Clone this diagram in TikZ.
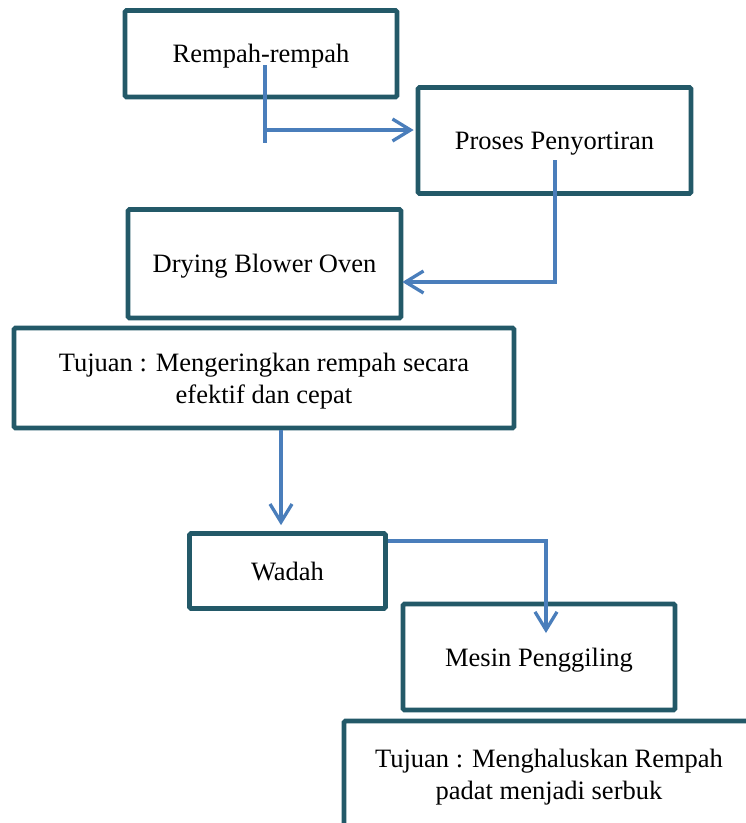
\documentclass[tikz,border=0pt]{standalone}
\usepackage{fontspec}
\setmainfont{Liberation Serif}
\usetikzlibrary{arrows.meta}
\definecolor{boxcol}{RGB}{35,89,104}
\definecolor{arrcol}{RGB}{74,126,187}
\begin{document}
\begin{tikzpicture}[x=1pt,y=-1pt,
  box/.style={draw=boxcol, line width=4.7pt, rounded corners=1.5pt, fill=white,
    inner sep=0pt, align=center, text=black, font=\fontsize{26.5}{32}\selectfont},
  onebox/.style={box, text depth=-3pt},
  conn/.style={draw=arrcol, line width=3.3pt},
  arr/.style={conn, -{Straight Barb[length=18pt,width=22pt]}}]
\useasboundingbox (0,0) rectangle (746,823);
\clip (0,0) rectangle (746,823);
\node[onebox, minimum width=272pt, minimum height=86.5pt] (rem) at (261,53.75) {Rempah-rempah};
\node[onebox, minimum width=273pt, minimum height=106pt] (pro) at (554.5,140.5) {Proses Penyortiran};
\node[onebox, minimum width=273pt, minimum height=108.5pt] (dry) at (264.5,263.75) {Drying Blower Oven};
\node[box, text depth=-1.5pt, minimum width=500pt, minimum height=100pt] (tj1) at (264,378) {Tujuan : Mengeringkan rempah secara\\efektif dan cepat};
\node[onebox, minimum width=196pt, minimum height=75pt] (wad) at (287.5,571) {Wadah};
\node[onebox, minimum width=272pt, minimum height=106pt] (mes) at (539,657) {Mesin Penggiling};
\node[box, minimum width=410pt, minimum height=113pt] (tj2) at (549,777.5) {Tujuan : Menghaluskan Rempah\\padat menjadi serbuk};
% connector 1
\coordinate (a1) at (265,65);
\coordinate (a2) at (265,143);
\coordinate (a3) at (265,130);
\draw[conn] (a1) -- (a2);
\draw[arr, shorten >=2pt] (a3) -- (a3 -| pro.west);
% connector 2
\coordinate (b1) at (555,160);
\coordinate (b2) at (555,282);
\draw[arr, shorten >=-1pt] (b1) -- (b2) -- (b2 -| dry.east);
% connector 3
\coordinate (c1) at (281,0);
\draw[arr, shorten >=6pt] (c1 |- tj1.south) -- (c1 |- wad.north);
% connector 4
\coordinate (d1) at (546,541);
\coordinate (d2) at (546,633);
\draw[arr] (d1 -| wad.east) -- (d1) -- (d2);
\end{tikzpicture}
\end{document}
